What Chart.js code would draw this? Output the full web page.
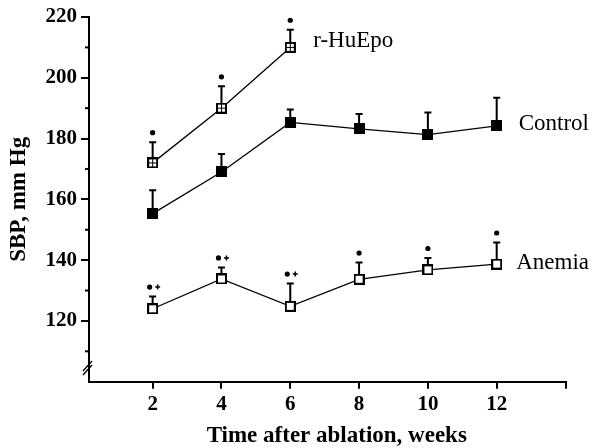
<!DOCTYPE html>
<html><head><meta charset="utf-8">
<script src="https://cdn.jsdelivr.net/npm/chart.js@4.4.0/dist/chart.umd.min.js"></script>
<style>html,body{margin:0;padding:0;background:#fff}#wrap{width:594px;height:448px;position:relative}</style>
</head><body><div id="wrap"><canvas id="c"></canvas></div>
<script>
// ---- data ----
const weeks = [2, 4, 6, 8, 10, 12];
const epoWeeks = [2, 4, 6];
const epoSBP = [172, 190, 210];
const epoErr = [6.8, 7.2, 5.8];
const epoMarks = ['•', '•', '•'];
const controlSBP = [155.3, 169, 185.3, 183.2, 181.3, 184.2];
const controlErr = [7.7, 5.9, 4.3, 4.9, 7.3, 9.2];
const controlMarks = ['', '', '', '', '', ''];
const anemiaSBP = [124, 133.8, 124.8, 133.7, 136.8, 138.7];
const anemiaErr = [4.0, 3.8, 7.5, 5.5, 3.9, 7.1];
const anemiaMarks = ['•+', '•+', '•+', '•', '•', '•'];
const seriesNames = ['r-HuEpo', 'Control', 'Anemia'];
const xTickValues = [2, 4, 6, 8, 10, 12, 14];
const xTickLabels = ['2', '4', '6', '8', '10', '12', ''];
const yTickLabels = [120, 140, 160, 180, 200, 220];
const xTitle = 'Time after ablation, weeks';
const yTitle = 'SBP, mm Hg';

const SERIF = '"Liberation Serif", "Times New Roman", serif';

function makeMarker(kind) {
  const s = 11, c = document.createElement('canvas');
  c.width = s; c.height = s;
  const g = c.getContext('2d');
  g.fillStyle = '#000'; g.fillRect(0, 0, s, s);
  g.fillStyle = '#fff';
  if (kind === 'open') g.fillRect(2, 2, 7, 7);
  if (kind === 'grid') { g.fillRect(2, 2, 3, 3); g.fillRect(6, 2, 3, 3); g.fillRect(2, 6, 3, 3); g.fillRect(6, 6, 3, 3); }
  return c;
}
const markerEpo = makeMarker('grid');
const markerControl = makeMarker('filled');
const markerAnemia = makeMarker('open');

const pts = (xs, ys) => xs.map((x, i) => ({ x: x, y: ys[i] }));

const groups = [
  { xs: epoWeeks, ys: epoSBP, es: epoErr, marks: epoMarks, name: seriesNames[0], dx: 23, dy: -6 },
  { xs: weeks, ys: controlSBP, es: controlErr, marks: controlMarks, name: seriesNames[1], dx: 22, dy: -1.5 },
  { xs: weeks, ys: anemiaSBP, es: anemiaErr, marks: anemiaMarks, name: seriesNames[2], dx: 19.5, dy: -1.5 }
];

const decor = {
  id: 'decor',
  beforeDatasetsDraw(chart) {
    const { ctx, scales: { x, y } } = chart;
    ctx.save();
    ctx.strokeStyle = '#000';
    ctx.lineWidth = 2;
    groups.forEach(g => {
      g.xs.forEach((xv, i) => {
        const px = x.getPixelForValue(xv);
        const py = y.getPixelForValue(g.ys[i]);
        const pt = y.getPixelForValue(g.ys[i] + g.es[i]);
        ctx.beginPath();
        ctx.moveTo(px, py); ctx.lineTo(px, pt);
        ctx.moveTo(px - 3.5, pt); ctx.lineTo(px + 3.5, pt);
        ctx.stroke();
      });
    });
    ctx.restore();
  },
  afterDatasetsDraw(chart) {
    const { ctx, scales: { x, y } } = chart;
    ctx.save();
    ctx.fillStyle = '#000'; ctx.strokeStyle = '#000';
    groups.forEach(g => {
      g.xs.forEach((xv, i) => {
        const m = g.marks[i];
        if (!m) return;
        const px = x.getPixelForValue(xv);
        const pt = y.getPixelForValue(g.ys[i] + g.es[i]) - 9.5;
        const plus = m.indexOf('+') >= 0;
        const dxDot = plus ? -3 : 0;
        ctx.beginPath(); ctx.arc(px + dxDot, pt, 2.6, 0, Math.PI * 2); ctx.fill();
        if (plus) {
          ctx.lineWidth = 1.5;
          ctx.beginPath();
          ctx.moveTo(px + 2.5, pt); ctx.lineTo(px + 7.5, pt);
          ctx.moveTo(px + 5, pt - 2.5); ctx.lineTo(px + 5, pt + 2.5);
          ctx.stroke();
        }
      });
      // series label next to the last point
      const n = g.xs.length - 1;
      ctx.font = '23px ' + SERIF;
      ctx.textAlign = 'left'; ctx.textBaseline = 'middle';
      ctx.fillText(g.name, x.getPixelForValue(g.xs[n]) + g.dx, y.getPixelForValue(g.ys[n]) + g.dy);
    });
    ctx.restore();
  },
  afterDraw(chart) {
    const { ctx, scales: { x, y } } = chart;
    ctx.save();
    ctx.strokeStyle = '#000';
    // minor y ticks
    ctx.lineWidth = 2;
    const ax = chart.chartArea.left;
    y.ticks.forEach(t => {
      if (t.value % 20 !== 0) {
        const py = y.getPixelForValue(t.value);
        ctx.beginPath(); ctx.moveTo(ax - 4, py); ctx.lineTo(ax, py); ctx.stroke();
      }
    });
    // axis break marks
    ctx.lineWidth = 1.3;
    const yb = y.getPixelForValue(104.5);
    [-2, 2].forEach(o => {
      ctx.beginPath(); ctx.moveTo(ax - 6, yb + o + 5); ctx.lineTo(ax + 3, yb + o - 5); ctx.stroke();
    });
    // x axis title
    ctx.fillStyle = '#000';
    ctx.font = 'bold 23px ' + SERIF;
    ctx.textAlign = 'center'; ctx.textBaseline = 'alphabetic';
    ctx.fillText(xTitle, (x.left + x.right) / 2 + 9.5, 441.5);
    ctx.restore();
  }
};

new Chart(document.getElementById('c'), {
  type: 'line',
  data: {
    datasets: [
      { label: seriesNames[0], data: pts(epoWeeks, epoSBP), borderColor: '#000', borderWidth: 1.3,
        pointStyle: markerEpo, pointRadius: 5, tension: 0, fill: false },
      { label: seriesNames[1], data: pts(weeks, controlSBP), borderColor: '#000', borderWidth: 1.3,
        pointStyle: markerControl, pointRadius: 5, tension: 0, fill: false },
      { label: seriesNames[2], data: pts(weeks, anemiaSBP), borderColor: '#000', borderWidth: 1.3,
        pointStyle: markerAnemia, pointRadius: 5, tension: 0, fill: false }
    ]
  },
  options: {
    responsive: true, maintainAspectRatio: false, animation: false,
    layout: { padding: { left: 0, right: 28.5, top: 17, bottom: 0 } },
    plugins: { legend: { display: false }, tooltip: { enabled: false } },
    scales: {
      x: {
        type: 'linear', min: 0.15, max: 14,
        afterBuildTicks: s => { s.ticks = xTickValues.map(v => ({ value: v })); },
        afterFit: s => { s.height = 448 - 381.7; },
        ticks: { color: '#000', padding: 3, maxRotation: 0, autoSkip: false,
          font: { family: SERIF, size: 21, weight: 'bold' },
          callback: (v) => { const i = xTickValues.indexOf(v); return i >= 0 ? xTickLabels[i] : ''; } },
        grid: { display: true, drawOnChartArea: false, drawTicks: true, tickLength: 7, lineWidth: 2, color: '#000' },
        border: { display: true, color: '#000', width: 2 }
      },
      y: {
        type: 'linear', min: 100, max: 220,
        afterFit: s => { s.width = 89; },
        ticks: { stepSize: 10, color: '#000', padding: 4, autoSkip: false,
          font: { family: SERIF, size: 21, weight: 'bold' },
          callback: (v) => yTickLabels.indexOf(v) >= 0 ? String(v) : '' },
        grid: { display: true, drawOnChartArea: false, drawTicks: true, tickLength: 8, lineWidth: 2,
          color: '#000',
          tickColor: (c) => (c.tick && yTickLabels.indexOf(c.tick.value) >= 0) ? '#000' : 'rgba(0,0,0,0)' },
        border: { display: true, color: '#000', width: 2 },
        title: { display: true, text: yTitle, color: '#000', padding: { top: 5, bottom: 0 },
          font: { family: SERIF, size: 23, weight: 'bold' } }
      }
    }
  },
  plugins: [decor]
});
</script></body></html>
